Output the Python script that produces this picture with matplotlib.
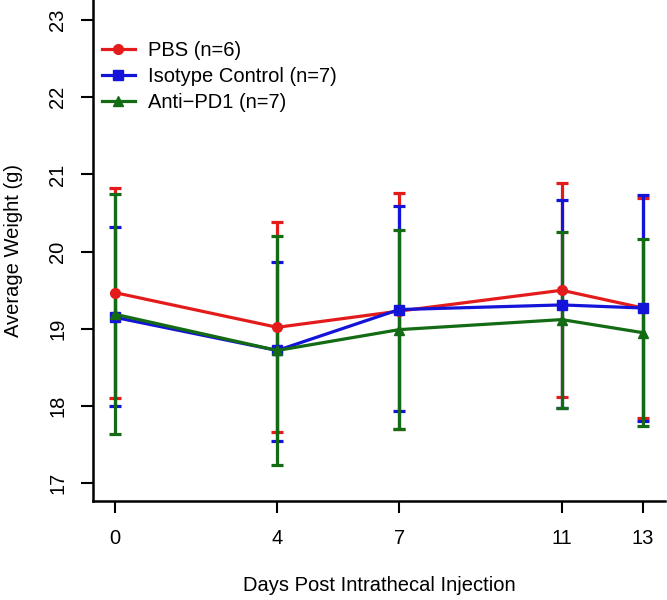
import matplotlib
matplotlib.use("Agg")
import matplotlib.pyplot as plt
from matplotlib.lines import Line2D
import numpy as np

plt.rcParams["font.family"] = ["Liberation Sans", "DejaVu Sans"]

days = [0, 4, 7, 11, 13]

pbs_mean = [19.47, 19.02, 19.23, 19.50, 19.27]
pbs_upper = [20.83, 20.39, 20.76, 20.89, 20.70]
pbs_lower = [18.11, 17.66, 17.70, 18.12, 17.84]

iso_mean = [19.15, 18.72, 19.25, 19.31, 19.27]
iso_upper = [20.32, 19.87, 20.59, 20.67, 20.74]
iso_lower = [18.00, 17.55, 17.93, 17.97, 17.81]

pd1_mean = [19.19, 18.72, 18.99, 19.12, 18.95]
pd1_upper = [20.75, 20.20, 20.28, 20.26, 20.16]
pd1_lower = [17.64, 17.24, 17.70, 17.97, 17.74]

series = [
    ("PBS (n=6)", pbs_mean, pbs_upper, pbs_lower, "#e41b1b", "o"),
    ("Isotype Control (n=7)", iso_mean, iso_upper, iso_lower, "#1414d8", "s"),
    ("Anti\u2212PD1 (n=7)", pd1_mean, pd1_upper, pd1_lower, "#136b13", "^"),
]

fig = plt.figure(figsize=(6.67, 6.0), dpi=100)
ax = fig.add_axes([0.139, 0.165, 0.858, 0.835])

handles = []
for label, mean, upper, lower, color, marker in series:
    mean = np.array(mean)
    yerr = [mean - np.array(lower), np.array(upper) - mean]
    ax.errorbar(days, mean, yerr=yerr, color=color, marker=marker,
                markersize=7, linewidth=2.3, elinewidth=2.3,
                capsize=4.5, capthick=2.3)
    handles.append(Line2D([], [], color=color, marker=marker,
                          markersize=7, linewidth=2.3, label=label))

ax.set_xlim(-0.54, 13.54)
ax.set_ylim(16.77, 23.26)
ax.set_xticks(days)
ax.set_yticks([17, 18, 19, 20, 21, 22, 23])
ax.tick_params(axis="both", direction="out", length=8.5, width=1.5,
               labelsize=14.5)
ax.tick_params(axis="x", pad=12)
ax.tick_params(axis="y", pad=10)
plt.setp(ax.get_yticklabels(), rotation=90, va="center")

for side in ["top", "right"]:
    ax.spines[side].set_visible(False)
for side in ["left", "bottom"]:
    ax.spines[side].set_linewidth(1.8)

ax.set_xlabel("Days Post Intrathecal Injection", fontsize=14.5, labelpad=20)
ax.set_ylabel("Average Weight (g)", fontsize=14.5, labelpad=18)

ax.legend(handles=handles, loc="upper left", bbox_to_anchor=(-0.009, 0.947),
          frameon=False, fontsize=14.5, handlelength=1.65, handletextpad=0.65,
          labelspacing=0.36, borderpad=0.2)

fig.savefig("out.png", dpi=100)
